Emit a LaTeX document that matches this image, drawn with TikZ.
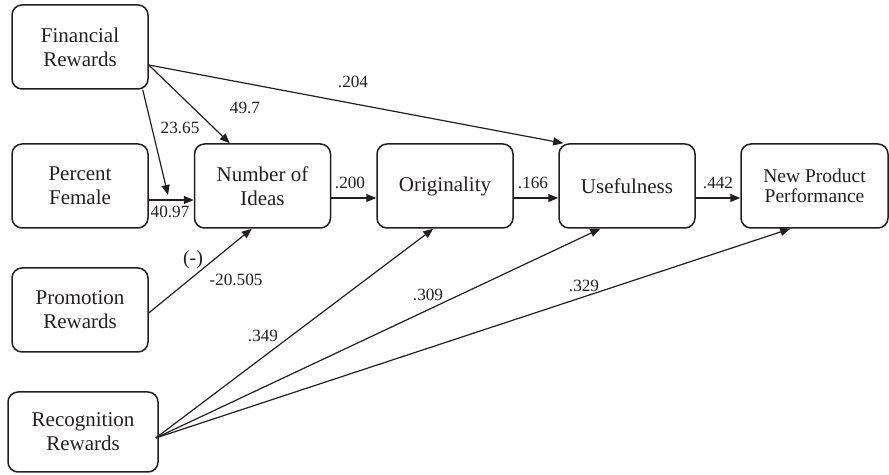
\documentclass[tikz,border=0pt]{standalone}
\usepackage{fontspec}
\setmainfont{Liberation Serif}
\usetikzlibrary{arrows.meta,calc}
\definecolor{pathink}{HTML}{231F20}

\begin{document}
\begin{tikzpicture}[x=0.5pt,y=-0.5pt,
  var/.style={draw=pathink,line width=0.75pt,rounded corners=5pt,minimum width=68pt,minimum height=42pt,
    align=center,inner sep=0pt,text=pathink,font=\fontsize{10.5}{12}\selectfont},
  effect/.style={draw=pathink,line width=0.6pt,-{Triangle[length=5pt,width=4pt]}},
  coef/.style={inner sep=0pt,text=pathink,font=\fontsize{8.6}{10}\selectfont}]
  \useasboundingbox (0,0) rectangle (889,475);
  % variables
  \node[var] (fin) at (80,47) {Financial\\Rewards};
  \node[var] (pfem) at (80,186) {Percent\\Female};
  \node[var] (promo) at (80,310) {Promotion\\Rewards};
  \node[var,minimum width=75pt,minimum height=40pt] (recog) at (83,432) {Recognition\\Rewards};
  \node[var] (noi) at (262.5,186) {Number of\\Ideas};
  \node[var] (orig) at (445,186) {Originality};
  \node[var] (usef) at (627,186) {Usefulness};
  \node[var,minimum width=73.5pt,font=\fontsize{9.75}{10}\selectfont] (npp) at (814.5,186) {New Product\\Performance};
  % paths
  \coordinate (finout) at ($(fin.east)+(0,18)$);
  \coordinate (join) at (168,195);
  \coordinate (fan) at ($(recog.east)+(-3,6)$);
  \draw[effect] (finout) -- ($(noi.north west)+(36,0)$);
  \draw[effect] (finout) -- ($(usef.north west)+(5,0)$);
  \draw[effect] ($(fin.south east)+(-6,0)$) -- (join);
  \draw[effect] ($(pfem.east)+(0,14)$) -- ($(noi.west)+(0,14)$);
  \foreach \a/\b in {noi/orig,orig/usef,usef/npp}{\draw[effect] ($(\a.east)+(0,12)$) -- ($(\b.west)+(0,12)$);}
  \draw[effect] ($(promo.east)+(0,3)$) -- ($(noi.south west)+(58,0)$);
  \foreach \b/\d in {orig/57,usef/42,npp/50}{\draw[effect] (fan) -- ($(\b.south west)+(\d,0)$);}
  % coefficients
  \node[coef] (c204) at (353,82) {.204};
  \node[coef] (c497) at (245,108) {49.7};
  \node[coef] (c2365) at (180,128) {23.65};
  \node[coef] (c4097) at (170,212) {40.97};
  \node[coef] (c200) at (350,183) {.200};
  \node[coef] (c166) at (533,183) {.166};
  \node[coef] (c442) at (718,183) {.442};
  \node[coef,font=\fontsize{10}{12}\selectfont] (cneg) at (193,260) {(-)};
  \node[coef] (c20505) at (236,280) {-20.505};
  \node[coef] (c349) at (263,336) {.349};
  \node[coef] (c309) at (428,295) {.309};
  \node[coef] (c329) at (584,286) {.329};
\end{tikzpicture}
\end{document}
